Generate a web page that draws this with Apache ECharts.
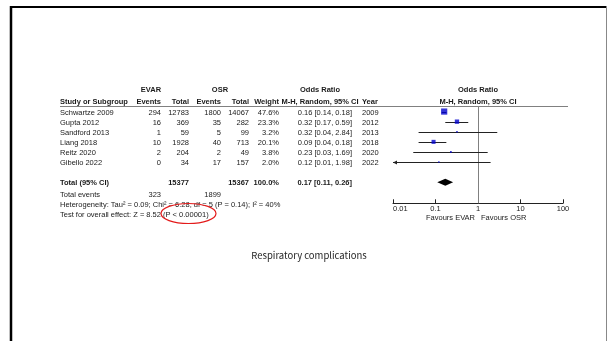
<!DOCTYPE html>
<html>
<head>
<meta charset="utf-8">
<script src="https://cdn.jsdelivr.net/npm/echarts@6/dist/echarts.min.js"></script>
<style>
  html, body { margin: 0; padding: 0; background: #fff; }
  #chart { width: 608px; height: 341px; }
</style>
</head>
<body>
<div id="chart"></div>
<script>
// Per-study data
const studies    = ['Schwartze 2009', 'Gupta 2012', 'Sandford 2013', 'Liang 2018', 'Reitz 2020', 'Gibello 2022'];
const evarEvents = [294, 16, 1, 10, 2, 0];
const evarTotal  = [12783, 369, 59, 1928, 204, 34];
const osrEvents  = [1800, 35, 5, 40, 2, 17];
const osrTotal   = [14067, 282, 99, 713, 49, 157];
const weights    = [47.6, 23.3, 3.2, 20.1, 3.8, 2.0];
const orEst      = [0.16, 0.32, 0.32, 0.09, 0.23, 0.12];
const ciLow      = [0.14, 0.17, 0.04, 0.04, 0.03, 0.01];
const ciHigh     = [0.18, 0.59, 2.84, 0.18, 1.69, 1.98];
const years      = [2009, 2012, 2013, 2018, 2020, 2022];

// Pooled result
const pooled          = [0.17, 0.11, 0.26];   // estimate, lower, upper
const pooledTotals    = [15377, 15367];        // EVAR total, OSR total
const pooledEvents    = [323, 1899];           // EVAR events, OSR events
const pooledWeight    = 100.0;
const heterogeneityTx = 'Heterogeneity: Tau\u00b2 = 0.09; Chi\u00b2 = 6.28, df = 5 (P = 0.14); I\u00b2 = 40%';
const overallEffectTx = 'Test for overall effect: Z = 8.52 ';
const overallPTx      = '(P < 0.00001)';

// Axis
const tickValues = [0.01, 0.1, 1, 10, 100];
const tickLabels = ['0.01', '0.1', '1', '10', '100'];
const favoursLeft  = 'Favours EVAR';
const favoursRight = 'Favours OSR';
const titleText    = 'Respiratory complications';

// ---- layout ----
const FONT = '"Liberation Sans", Arial, sans-serif';
const FS = 7.5;
const TXT = '#1a1a1a';
const GRID_TOP = 106.5, ROW_H = 10.1, GRID_H = 96.8;
const PLOT_LEFT = 393, PLOT_W = 170;
const rowY = r => GRID_TOP + (r + 0.5) * ROW_H;
const TEXT_DY = 1.2;           // text sits slightly below the mark centre
const Y_HEAD1 = 90, Y_HEAD2 = 101.5;
const Y_TOTAL = 183, Y_EVENTS = 195, Y_HET = 205, Y_TEST = 215;

const col = {
  name: 60, evE: 161, evT: 189, osE: 221, osT: 249, wt: 279, or: 352, yr: 362
};

const fmt2 = v => v.toFixed(2);
const orText = (e, l, h) => fmt2(e) + ' [' + fmt2(l) + ', ' + fmt2(h) + ']';

function txt(text, x, y, align, bold) {
  return {
    type: 'text', x: x, y: y, silent: true,
    style: {
      text: String(text), fill: TXT, align: align || 'left', verticalAlign: 'middle',
      font: (bold ? 'bold ' : '') + FS + 'px ' + FONT
    }
  };
}

const g = [];
// frame
g.push({ type: 'line', shape: { x1: 11, y1: 6, x2: 11, y2: 341 }, style: { stroke: '#000', lineWidth: 2.5 } });
g.push({ type: 'line', shape: { x1: 10, y1: 7, x2: 607, y2: 7 }, style: { stroke: '#000', lineWidth: 2 } });
g.push({ type: 'line', shape: { x1: 606.5, y1: 6, x2: 606.5, y2: 341 }, style: { stroke: '#888', lineWidth: 1 } });

// header
g.push(txt('EVAR', 151, Y_HEAD1, 'center', true));
g.push(txt('OSR', 220, Y_HEAD1, 'center', true));
g.push(txt('Odds Ratio', 320, Y_HEAD1, 'center', true));
g.push(txt('Odds Ratio', PLOT_LEFT + PLOT_W / 2, Y_HEAD1, 'center', true));
g.push(txt('Study or Subgroup', col.name, Y_HEAD2, 'left', true));
g.push(txt('Events', col.evE, Y_HEAD2, 'right', true));
g.push(txt('Total', col.evT, Y_HEAD2, 'right', true));
g.push(txt('Events', col.osE, Y_HEAD2, 'right', true));
g.push(txt('Total', col.osT, Y_HEAD2, 'right', true));
g.push(txt('Weight', col.wt, Y_HEAD2, 'right', true));
g.push(txt('M-H, Random, 95% CI', 320, Y_HEAD2, 'center', true));
g.push(txt('Year', col.yr, Y_HEAD2, 'left', true));
g.push(txt('M-H, Random, 95% CI', PLOT_LEFT + PLOT_W / 2, Y_HEAD2, 'center', true));
g.push({ type: 'line', shape: { x1: 60, y1: GRID_TOP, x2: 568, y2: GRID_TOP }, style: { stroke: '#808080', lineWidth: 1 } });

// study rows
studies.forEach((s, i) => {
  const y = rowY(i) + TEXT_DY;
  g.push(txt(s, col.name, y, 'left'));
  g.push(txt(evarEvents[i], col.evE, y, 'right'));
  g.push(txt(evarTotal[i], col.evT, y, 'right'));
  g.push(txt(osrEvents[i], col.osE, y, 'right'));
  g.push(txt(osrTotal[i], col.osT, y, 'right'));
  g.push(txt(weights[i].toFixed(1) + '%', col.wt, y, 'right'));
  g.push(txt(orText(orEst[i], ciLow[i], ciHigh[i]), col.or, y, 'right'));
  g.push(txt(years[i], col.yr, y, 'left'));
});

// totals
const totRow = 7;
g.push(txt('Total (95% CI)', col.name, Y_TOTAL, 'left', true));
g.push(txt(pooledTotals[0], col.evT, Y_TOTAL, 'right', true));
g.push(txt(pooledTotals[1], col.osT, Y_TOTAL, 'right', true));
g.push(txt(pooledWeight.toFixed(1) + '%', col.wt, Y_TOTAL, 'right', true));
g.push(txt(orText(pooled[0], pooled[1], pooled[2]), col.or, Y_TOTAL, 'right', true));
g.push(txt('Total events', col.name, Y_EVENTS, 'left'));
g.push(txt(pooledEvents[0], col.evE, Y_EVENTS, 'right'));
g.push(txt(pooledEvents[1], col.osE, Y_EVENTS, 'right'));
g.push(txt(heterogeneityTx, col.name, Y_HET, 'left'));
g.push(txt(overallEffectTx + overallPTx, col.name, Y_TEST, 'left'));
// highlight around the p-value
g.push({ type: 'ellipse', shape: { cx: 188.5, cy: Y_TEST - 1.5, rx: 27.5, ry: 10 },
         style: { fill: 'none', stroke: '#e31b1b', lineWidth: 1.2 } });

// favours captions
g.push(txt(favoursLeft, PLOT_LEFT + PLOT_W / 2 - 3, 218, 'right'));
g.push(txt(favoursRight, PLOT_LEFT + PLOT_W / 2 + 3, 218, 'left'));

// title
g.push({ type: 'text', x: 309, y: 255, silent: true,
         style: { text: titleText, fill: '#262626', align: 'center', verticalAlign: 'middle',
                  font: '9.5px "Noto Sans CJK KR", "Noto Sans", sans-serif' } });

const Y_MAX = GRID_H / ROW_H;
const studyRows = studies.map((s, i) => i + 0.5);

const option = {
  animation: false,
  backgroundColor: '#fff',
  grid: { left: PLOT_LEFT, width: PLOT_W, top: GRID_TOP, height: GRID_H, containLabel: false },
  xAxis: {
    type: 'log', logBase: 10, position: 'bottom',
    min: tickValues[0], max: tickValues[tickValues.length - 1],
    axisLine: { show: true, onZero: false, lineStyle: { color: '#222', width: 1 } },
    axisTick: { show: true, inside: true, length: 4, lineStyle: { color: '#222' } },
    minorTick: { show: false },
    splitLine: { show: false },
    axisLabel: {
      color: TXT, fontSize: FS, fontFamily: FONT, margin: 2,
      alignMinLabel: 'left',
      formatter: v => {
        const k = tickValues.findIndex(t => Math.abs(Math.log10(t) - Math.log10(v)) < 1e-6);
        return k >= 0 ? tickLabels[k] : '';
      }
    }
  },
  yAxis: { type: 'value', inverse: true, min: 0, max: Y_MAX, show: false },
  graphic: g,
  series: [
    {
      // line of no effect
      type: 'custom', silent: true, clip: false,
      data: [[tickValues[2], 0, Y_MAX]],
      renderItem: (params, api) => {
        const a = api.coord([api.value(0), api.value(1)]);
        const b = api.coord([api.value(0), api.value(2)]);
        const x = Math.round(a[0]) + 0.5;
        return { type: 'line', shape: { x1: x, y1: a[1], x2: x, y2: b[1] },
                 style: { stroke: '#808080', lineWidth: 1 } };
      }
    },
    {
      // confidence intervals
      type: 'custom', silent: true, clip: false,
      data: studies.map((s, i) => [ciLow[i], ciHigh[i], studyRows[i]]),
      renderItem: (params, api) => {
        const lo = Math.max(api.value(0), tickValues[0]);
        const hi = Math.min(api.value(1), tickValues[tickValues.length - 1]);
        const p1 = api.coord([lo, api.value(2)]);
        const p2 = api.coord([hi, api.value(2)]);
        const y = Math.round(p1[1]) + 0.5;
        const children = [{ type: 'line', shape: { x1: p1[0], y1: y, x2: p2[0], y2: y },
                            style: { stroke: '#222', lineWidth: 1 } }];
        if (api.value(0) <= tickValues[0]) {
          children.push({ type: 'polygon', shape: { points: [[p1[0] + 4, y - 2], [p1[0], y], [p1[0] + 4, y + 2]] },
                          style: { fill: '#222' } });
        }
        return { type: 'group', children: children };
      }
    },
    {
      // study estimates, box area proportional to weight
      type: 'scatter', silent: true,
      symbol: 'rect',
      data: studies.map((s, i) => ({ value: [orEst[i], studyRows[i]], symbolSize: Math.max(1.4, 6.2 * Math.sqrt(weights[i] / weights[0])) })),
      itemStyle: { color: '#0000cc' }
    },
    {
      // pooled estimate diamond
      type: 'custom', silent: true, clip: false,
      data: [[pooled[0], pooled[1], pooled[2], totRow + 0.5]],
      renderItem: (params, api) => {
        const c = api.coord([api.value(0), api.value(3)]);
        const l = api.coord([api.value(1), api.value(3)]);
        const r = api.coord([api.value(2), api.value(3)]);
        const h = 3.5;
        return { type: 'polygon', shape: { points: [[l[0], c[1]], [c[0], c[1] - h], [r[0], c[1]], [c[0], c[1] + h]] },
                 style: { fill: '#000' } };
      }
    }
  ]
};

const chart = echarts.init(document.getElementById('chart'), null, { renderer: 'canvas' });
chart.setOption(option);
</script>
</body>
</html>
